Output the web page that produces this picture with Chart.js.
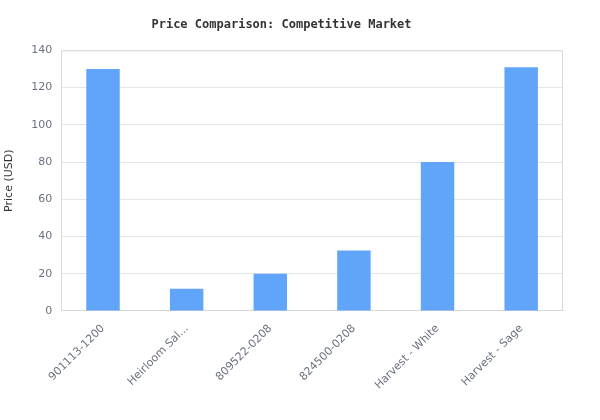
<!DOCTYPE html>
<html>
<head>
<meta charset="utf-8">
<script src="https://cdn.jsdelivr.net/npm/chart.js@4/dist/chart.umd.min.js"></script>
<style>
  html, body { margin: 0; padding: 0; background: #fff; }
  #wrap { width: 600px; height: 420px; }
</style>
</head>
<body>
<div id="wrap"><canvas id="priceChart"></canvas></div>
<script>
// Data
const products = ['901113-1200', 'Heirloom Salad Plate', '809522-0208', '824500-0208', 'Harvest - White', 'Harvest - Sage'];
const prices = [130, 12, 20, 32.5, 80, 131];
const yTicks = [0, 20, 40, 60, 80, 100, 120, 140];

function shortLabel(s) {
    //long names get cut like the original
    return s.length > 15 ? s.slice(0, 12) + '...' : s;
}

const ctx = document.getElementById('priceChart');
new Chart(ctx, {
    type: 'bar',
    data: {
        labels: products,
        datasets: [{
            label: 'Price',
            data: prices,
            backgroundColor: '#60a5fa',
            borderWidth: 0,
            barPercentage: 0.5,
            categoryPercentage: 0.8
        }]
    },
    options: {
        responsive: true,
        maintainAspectRatio: false,
        animation: false,
        layout: { padding: { top: 0, right: 37, left: 0, bottom: 25 } },
        plugins: {
            legend: { display: false },
            tooltip: { enabled: false },
            title: {
                display: true,
                text: 'Price Comparison: Competitive Market',
                color: '#333',
                font: { family: 'DejaVu Sans Mono', size: 12, weight: 'bold' },
                padding: { top: 18, bottom: 18 }
            }
        },
        scales: {
            x: {
                grid: { display: false },
                border: { color: '#d9d9d9' },
                ticks: {
                    color: '#6b7280',
                    font: { family: 'DejaVu Sans', size: 11 },
                    maxRotation: 45,
                    minRotation: 45,
                    callback: function (v) { return shortLabel(this.getLabelForValue(v)); }
                }
            },
            y: {
                min: 0,
                max: 140,
                afterBuildTicks: function (axis) { axis.ticks = yTicks.map(v => ({ value: v })); },
                grid: { color: '#e6e6e6', drawTicks: false },
                border: { color: '#d9d9d9' },
                ticks: {
                    color: '#6b7280',
                    font: { family: 'DejaVu Sans', size: 11 },
                    padding: 9
                },
                title: {
                    display: true,
                    text: 'Price (USD)',
                    color: '#333',
                    font: { family: 'DejaVu Sans', size: 11 },
                    padding: { top: 3, bottom: 6 }
                }
            }
        }
    },
    plugins: [{
        id: 'frame',
        afterDraw(chart) {
            //right/top edge of plot box
            const a = chart.chartArea, c = chart.ctx;
            c.save();
            c.strokeStyle = '#d9d9d9';
            c.lineWidth = 1;
            c.beginPath();
            c.moveTo(a.left, a.top + 0.5);
            c.lineTo(a.right - 0.5, a.top + 0.5);
            c.lineTo(a.right - 0.5, a.bottom);
            c.stroke();
            c.restore();
        }
    }]
});
</script>
</body>
</html>
